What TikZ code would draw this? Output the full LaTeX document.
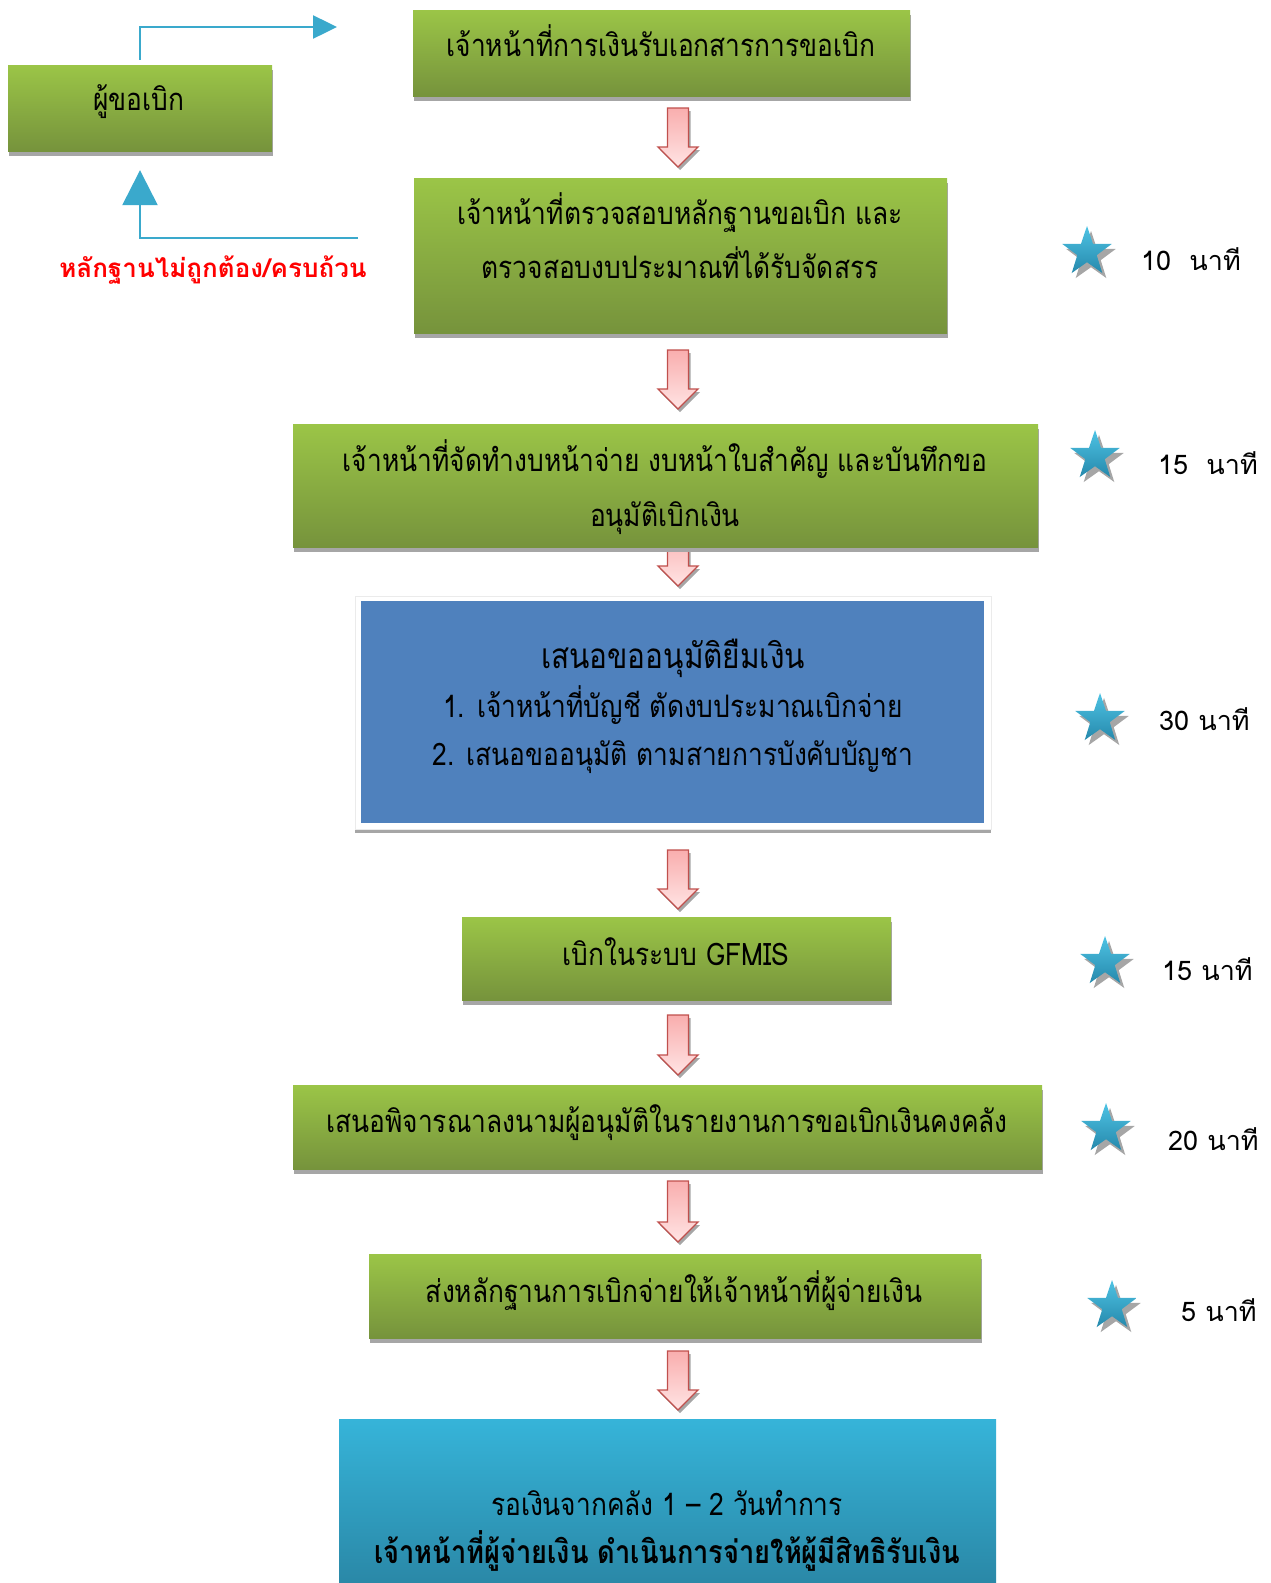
\documentclass[tikz,border=0pt]{standalone}
\usepackage{fontspec}
\usetikzlibrary{shapes.geometric,shadows,arrows.meta}
\newfontfamily\thaifont[Script=Thai,FakeStretch=0.85]{Loma}
\newfontfamily\thaiplain[Script=Thai]{Loma}
\definecolor{gtop}{HTML}{9BC547}
\definecolor{gbot}{HTML}{76933C}
\definecolor{shgray}{HTML}{A6A6A6}
\definecolor{bluebox}{HTML}{4F81BD}
\definecolor{cyantop}{HTML}{36B4D9}
\definecolor{cyanbot}{HTML}{2A88A7}
\definecolor{conn}{HTML}{3AA9CC}
\definecolor{arrred}{HTML}{C0504D}
\definecolor{pinktop}{HTML}{F9AEAE}
\definecolor{pinkbot}{HTML}{FFE4E4}
\definecolor{startop}{HTML}{4EC3E4}
\definecolor{starbot}{HTML}{2689AC}
\definecolor{redtxt}{HTML}{FF0000}
\tikzset{
  greenbox/.style={rectangle,inner sep=0pt,draw=none,shading=axis,top color=gtop,bottom color=gbot,
    drop shadow={shadow xshift=1pt,shadow yshift=-5pt,fill=shgray,opacity=1}},
  boxtxt/.style={inner sep=0pt,anchor=base,font=\thaifont\fontsize{31}{37}\selectfont,text=black},
  timetxt/.style={inner sep=0pt,anchor=base west,font=\thaiplain\fontsize{27}{32}\selectfont,text=black},
  starnode/.style={star,star points=5,star point ratio=2.55,minimum size=52pt,inner sep=0pt,draw=none,
    shading=axis,top color=startop,bottom color=starbot,
    drop shadow={shadow xshift=4pt,shadow yshift=-5pt,fill=shgray,opacity=1}},
  pinkarrow/.style={draw=arrred,line width=1.3pt,line join=miter,shading=axis,top color=pinktop,bottom color=pinkbot,
    drop shadow={shadow xshift=2pt,shadow yshift=-3pt,fill=shgray,opacity=1}},
  connline/.style={draw=conn,line width=2.5pt},
}
\newcommand\blockarrow[3]{%
  \path[pinkarrow] ({#1-10.5},#2) -- ({#1+10.5},#2) -- ({#1+10.5},{#3-20}) -- ({#1+20},{#3-20})
    -- (#1,#3) -- ({#1-20},{#3-20}) -- ({#1-10.5},{#3-20}) -- cycle;}
\begin{document}
\begin{tikzpicture}[x=1pt,y=-1pt]
\useasboundingbox (0,0) rectangle (1270,1583);
% pink arrows (drawn first so boxes cover their tops)
\blockarrow{678}{108}{167}
\blockarrow{678}{350}{409}
\blockarrow{678}{527}{586}
\blockarrow{678}{850}{909}
\blockarrow{678}{1015}{1075}
\blockarrow{678}{1181}{1242}
\blockarrow{678}{1351}{1410}
% boxes
\node[greenbox,minimum width=497pt,minimum height=86pt] (b1) at (661.5,53) {};
\node[greenbox,minimum width=264pt,minimum height=86pt] (req) at (140,108) {};
\node[greenbox,minimum width=533pt,minimum height=155pt] (b2) at (680.5,255.5) {};
\node[greenbox,minimum width=745pt,minimum height=123pt] (b3) at (665.5,485.5) {};
\node[rectangle,inner sep=0pt,fill=white,draw=black!8,line width=0.8pt,minimum width=636pt,minimum height=233pt,
  drop shadow={shadow xshift=0pt,shadow yshift=-4pt,fill=shgray,opacity=1}] (bframe) at (673,712.5) {};
\node[rectangle,inner sep=0pt,fill=bluebox,minimum width=623pt,minimum height=222pt] (b4) at (672.5,712) {};
\node[greenbox,minimum width=429pt,minimum height=83pt] (b5) at (676.5,958.5) {};
\node[greenbox,minimum width=749pt,minimum height=84pt] (b6) at (667.5,1127) {};
\node[greenbox,minimum width=612pt,minimum height=84pt] (b7) at (675,1296) {};
\node[rectangle,inner sep=0pt,draw=none,shading=axis,top color=cyantop,bottom color=cyanbot,
  minimum width=657pt,minimum height=164pt] (b8) at (667.5,1501) {};
% texts
\node[boxtxt] (t1) at (661,56) {เจ้าหน้าที่การเงินรับเอกสารการขอเบิก};
\node[boxtxt] (treq) at (139,110) {ผู้ขอเบิก};
\node[boxtxt] (t2a) at (680,224) {เจ้าหน้าที่ตรวจสอบหลักฐานขอเบิก และ};
\node[boxtxt] (t2b) at (680,278) {ตรวจสอบงบประมาณที่ได้รับจัดสรร};
\node[boxtxt] (t3a) at (665,471) {เจ้าหน้าที่จัดทำงบหน้าจ่าย งบหน้าใบสำคัญ และบันทึกขอ};
\node[boxtxt] (t3b) at (665,526) {อนุมัติเบิกเงิน};
\node[boxtxt,font=\thaifont\fontsize{35}{41}\selectfont] (t4a) at (673,668) {เสนอขออนุมัติยืมเงิน};
\node[boxtxt] (t4b) at (673,717) {1. เจ้าหน้าที่บัญชี ตัดงบประมาณเบิกจ่าย};
\node[boxtxt] (t4c) at (673,765) {2. เสนอขออนุมัติ ตามสายการบังคับบัญชา};
\node[boxtxt] (t5) at (676,965) {เบิกในระบบ GFMIS};
\node[boxtxt] (t6) at (667,1132) {เสนอพิจารณาลงนามผู้อนุมัติในรายงานการขอเบิกเงินคงคลัง};
\node[boxtxt] (t7) at (674,1302) {ส่งหลักฐานการเบิกจ่ายให้เจ้าหน้าที่ผู้จ่ายเงิน};
\node[boxtxt] (t8a) at (667,1515) {รอเงินจากคลัง 1 – 2 วันทำการ};
\node[boxtxt,font=\thaifont\bfseries\fontsize{32}{38}\selectfont] (t8b) at (667,1563) {เจ้าหน้าที่ผู้จ่ายเงิน ดำเนินการจ่ายให้ผู้มีสิทธิรับเงิน};
% red label
\node[inner sep=0pt,anchor=base,font=\thaiplain\bfseries\fontsize{26}{31}\selectfont,text=redtxt] (lbl) at (213,277) {หลักฐานไม่ถูกต้อง/ครบถ้วน};
% connectors
\coordinate (fwdEnd) at (337,27);
\draw[connline,-{Triangle[width=23pt,length=24pt]}] ([yshift=5pt]req.north) |- (fwdEnd);
\coordinate (backStart) at (358,238);
\coordinate (backTip) at ([yshift=-19pt]req.south);
\draw[connline,-{Triangle[width=35pt,length=35pt]}] (backStart) -| (backTip);
% stars and times
\node[starnode] (s1) at (1087,252) {};
\node[starnode] (s2) at (1095,456) {};
\node[starnode] (s3) at (1100,719) {};
\node[starnode] (s4) at (1105,962) {};
\node[starnode] (s5) at (1106,1129) {};
\node[starnode] (s6) at (1112,1306) {};
\node[timetxt] (m1) at (1141,270) {10\ \ นาที};
\node[timetxt] (m2) at (1158,474) {15\ \ นาที};
\node[timetxt] (m3) at (1159,730) {30 นาที};
\node[timetxt] (m4) at (1162,980) {15 นาที};
\node[timetxt] (m5) at (1168,1150) {20 นาที};
\node[timetxt] (m6) at (1181,1321) {5 นาที};
\end{tikzpicture}
\end{document}
